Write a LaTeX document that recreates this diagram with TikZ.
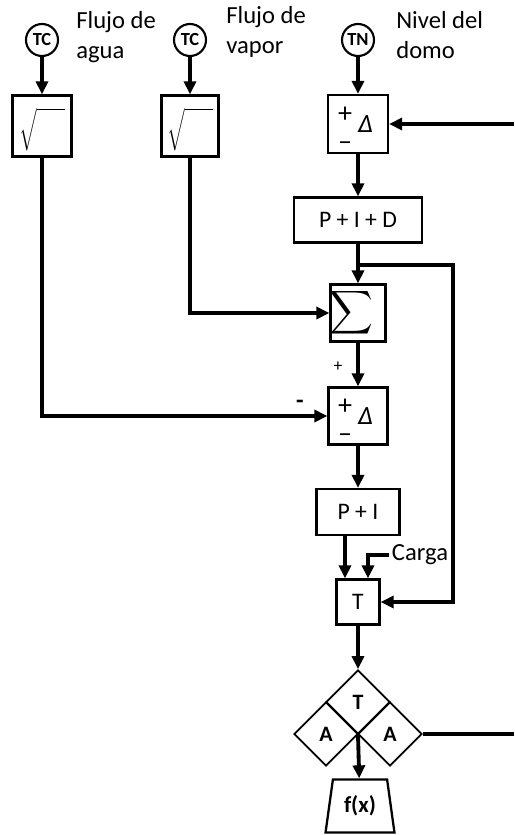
\documentclass[tikz,border=0pt]{standalone}
\usepackage{fontspec}
\setmainfont{Carlito}
\usepackage{amsmath}
\usetikzlibrary{arrows.meta,calc,positioning,shapes.geometric}

\begin{document}
\begin{tikzpicture}[x=0.02cm,y=-0.02cm,>={Triangle[length=0.26cm,width=0.24cm]}]
	\tikzstyle{block} = [draw, rectangle, line width=1.3pt, inner sep=0pt, font=\fontsize{13.5}{15}\selectfont]
	\tikzstyle{meter} = [draw, circle, line width=1.2pt, minimum size=0.64cm, inner sep=0pt, font=\bfseries\fontsize{10.5}{10.5}\selectfont]
	\tikzstyle{rhomb} = [draw, diamond, aspect=1, line width=1pt, minimum size=1.28cm, inner sep=0pt, font=\bfseries\fontsize{12.5}{12.5}\selectfont]
	\tikzstyle{flow} = [line width=2.2pt]
	\tikzstyle{tag} = [align=left, anchor=west, inner sep=0pt, font=\fontsize{14}{17}\selectfont]
	\tikzstyle{sign} = [inner sep=0pt, anchor=base, font=\fontsize{16}{16}\selectfont]
	
	\useasboundingbox (0,0) rectangle (514,835);
	
	% transmitters
	\node [meter] (tcw) at (42,40) {TC};
	\node [meter] (tcv) at (190,40) {TC};
	\node [meter] (tn) at (358,40) {TN};
	\node [tag] (lagua) at (76,37) {Flujo de\\agua};
	\node [tag] (lvapor) at (226,32) {Flujo de\\vapor};
	\node [tag] (ldomo) at (396,35) {Nivel del\\domo};
	
	% square roots
	\node [block, minimum width=1.18cm, minimum height=1.22cm] (sqw) at (42,126) {};
	\node [block, minimum width=1.14cm, minimum height=1.22cm] (sqv) at (190,126) {};
	\foreach \b in {sqw,sqv}
		\node [inner sep=0pt] at ([yshift=-0.08cm]\b.center) {$\sqrt{\rule{0pt}{0.76cm}\hspace{0.55cm}}$};
	
	% level loop
	\node [block, minimum width=1.2cm, minimum height=1.16cm] (difA) at (358,124) {};
	\node [block, minimum width=2.56cm, minimum height=0.9cm] (pid) at (358,220) {P + I + D};
	\node [block, minimum width=1.1cm, minimum height=1.14cm] (sum) at (358,313) {};
	\node [inner sep=0pt, font=\fontsize{16}{16}\selectfont] at ([xshift=-0.14cm]sum.center) {$\displaystyle\sum$};
	\node [block, minimum width=1.18cm, minimum height=1.14cm] (difB) at (358,416) {};
	\foreach \b in {difA,difB} {
		\node [sign] at ([xshift=-0.26cm,yshift=0.04cm]\b.center) {+};
		\node [sign] at ([xshift=-0.26cm,yshift=-0.54cm]\b.center) {–};
		\node [sign, font=\itshape\fontsize{15}{15}\selectfont] at ([xshift=0.15cm,yshift=-0.16cm]\b.center) {Δ};
	}
	\node [block, minimum width=1.66cm, minimum height=0.92cm] (pi) at (358,512) {P + I};
	\node [block, minimum width=0.86cm, minimum height=0.9cm] (tbox) at (358,602) {T};
	
	% valve
	\node [rhomb] (dT) at (358,702) {T};
	\node [rhomb] (dAl) at (326,734) {A};
	\node [rhomb] (dAr) at (390,734) {A};
	\node [draw, trapezium, trapezium angle=78, trapezium stretches=true, line width=1.3pt, minimum width=1.38cm, minimum height=1.06cm, inner sep=0pt, font=\bfseries\fontsize{13}{13}\selectfont] (fx) at (360,806) {f(x)};
	
	\node [inner sep=0pt, font=\fontsize{10}{10}\selectfont] (pls) at (338,367) {+};
	\node [inner sep=0pt, font=\bfseries\fontsize{14}{14}\selectfont] (mns) at (300,404) {-};
	\node [tag, inner sep=1.5pt] (carga) at (389,555) {Carga};
	
	\coordinate (inA) at (514,124);
	\coordinate (outA) at (514,734);
	\coordinate (fork) at (358,265);
	\coordinate (loop) at (453,265);
	
	\draw [flow,->] (tcw) -- (sqw);
	\draw [flow,->] (tcv) -- (sqv);
	\draw [flow,->] (tn) -- (difA);
	\draw [flow,->] (inA) -- (difA.east);
	\draw [flow,->] (difA) -- (pid);
	\draw [flow,->] (pid) -- (sum);
	\draw [flow,->] (sqv.south) |- (sum.west);
	\draw [flow,->] (sum) -- (difB);
	\draw [flow,->] (sqw.south) |- (difB.west);
	\draw [flow,->] (difB) -- (pi);
	\draw [flow,->] ([xshift=-0.26cm]pi.south) -- ([xshift=-0.26cm]tbox.north);
	\draw [flow,->] (carga.west) -| ([xshift=0.2cm]tbox.north);
	\draw [flow,->] (fork) -- (loop) |- (tbox.east);
	\draw [flow,->] (tbox) -- (dT);
	\draw [flow,->] (dT.south) -- (fx);
	\draw [flow] (dAr.east) -- (outA);
	
\end{tikzpicture}
\end{document}
